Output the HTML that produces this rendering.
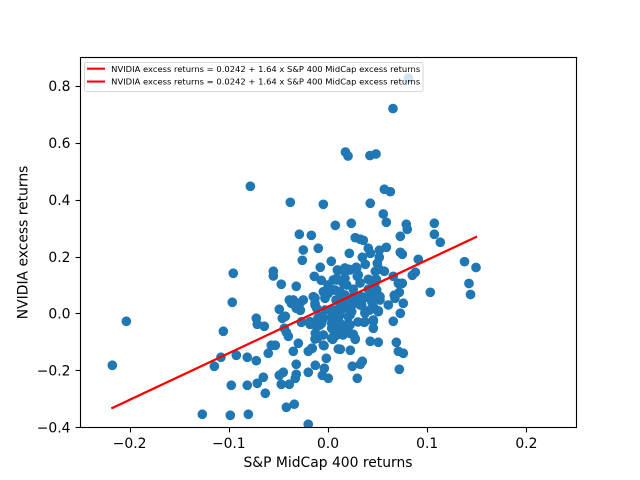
<!DOCTYPE html>
<html lang="en">
<head>
<meta charset="utf-8">
<title>NVIDIA excess returns vs S&amp;P MidCap 400 returns</title>
<style>
html,body{margin:0;padding:0;background:#fff;}
body{width:640px;height:480px;overflow:hidden;}
svg{display:block;}
text{font-family:"DejaVu Sans","Liberation Sans",sans-serif;fill:#000;}
</style>
</head>
<body>
<svg id="chart" xmlns="http://www.w3.org/2000/svg" width="640" height="480" viewBox="0 0 640 480">
  <defs><clipPath id="plot-clip"><rect x="80" y="57.6" width="496" height="369.6"></rect></clipPath></defs>
  <rect x="80" y="57.6" width="496" height="369.6" fill="#fff"></rect>
  <g id="points" clip-path="url(#plot-clip)"></g>
  <g id="fit-lines" clip-path="url(#plot-clip)"></g>
  <g id="x-axis"></g>
  <g id="y-axis"></g>
  <rect x="80.5" y="57.5" width="496" height="370" fill="none" stroke="#000" stroke-width="1.11"></rect>
  <text x="328" y="467" font-size="13.89" text-anchor="middle">S&amp;P MidCap 400 returns</text>
  <text transform="translate(27.5 242.4) rotate(-90)" font-size="13.89" text-anchor="middle">NVIDIA excess returns</text>
  <g>
    <rect x="84.5" y="62.5" width="338.5" height="29" rx="2" fill="#fff" fill-opacity="0.8" stroke="#ccc" stroke-opacity="0.8" stroke-width="1"></rect>
    <g>
      <line x1="87" y1="68.7" x2="105" y2="68.7" stroke="#ff0000" stroke-width="2.08"></line>
      <text x="111.2" y="71.8" font-size="8.04" textLength="309" lengthAdjust="spacingAndGlyphs">NVIDIA excess returns = 0.0242 + 1.64 x S&amp;P 400 MidCap excess returns</text>
    </g>
    <g>
      <line x1="87" y1="81.6" x2="105" y2="81.6" stroke="#ff0000" stroke-width="2.08"></line>
      <text x="111.2" y="84.7" font-size="8.04" textLength="309" lengthAdjust="spacingAndGlyphs">NVIDIA excess returns = 0.0242 + 1.64 x S&amp;P 400 MidCap excess returns</text>
    </g>
  </g>
</svg>
<script>
const xValues = [-.0783,-.038,-.0047,.0074,-.0289,-.0168,-.0249,-.0098,-.0259,.0033,-.0078,-.0955,-.0551,-.0551,-.0471,-.032,-.0138,-.0068,.0094,
.0568,.0628,.0426,.0557,.0588,.0789,.0799,.1072,.1072,.1132,.0729,.0235,.0275,.0326,.0356,.0406,.0426,.0517,.0588,.0215,.0729,.0749,.091,.0346,.0517,.0497,.0376,.0104,.0285,.0215,.0477,.0517,.0568,.088,.085,.0658,.0295,.0406,.0487,.0709,.0749,.1031,.0719,.0668,.0517,.0457,.0406,.0255,.0154,.0088,.0053,.0171,.0071,.0121,
-.0965,-.1055,-.0723,-.0713,-.0642,-.0491,-.043,-.0461,-.039,-.037,-.032,-.0249,-.0279,-.0269,-.0441,-.04,-.042,-.0299,-.0572,-.0531,-.0602,-.035,-.0199,-.0158,-.0924,-.1079,-.0814,-.0723,-.0017,-.032,-.0128,-.0037,-.0199,-.0451,-.0491,-.032,-.033,-.0057,.0003,-.0652,-.0713,-.0814,-.0975,-.0471,-.039,-.0632,-.034,-.042,-.0985,-.0803,-.0199,-.0108,-.0128,-.0047,.0104,.0053,-.0047,-.0164,-.0081,.0037,.0071,-.0047,-.0131,-.0131,-.003,-.0181,-.0282,
.0759,.0729,.0658,.0608,.0507,.0457,.0457,.0366,.0457,.0426,.0507,.0689,.0709,.0759,.0719,.0346,.0326,.0245,.0295,.0124,.0225,.0275,.0222,.0088,.0047,.0222,.0154,.0323,.0356,.0524,.0675,.0121,.0189,.0104,.0053,.0205,.0071,
-.2033,-.2174,-.1146,-.1267,.0811,.0655,.0176,.0202,.0423,.0484,.1376,.1492,.1421,.1437,
.002,.0141,.0242,.0171,.0272,.0373,.0423,.0302,-.003,.0121,.0222,.0151,0,.0171,.0081,.0323,-.0101,
.0222,.0289,.0305,.0171,.0088,.0154,.0189,.0053,.0121,-.0047,.0003,-.0148,-.035,-.0333,-.0282,-.0131,-.0114,-.003,.0189,.0255,.034,.0423,.0491,.0524,.0423,.0474,.0441,.034,.0373,.0507,.0423,.0053,.0121,.0205,.0239,.0037,.0121,.0205,.0037,.0121,.0053,.0121,-.0081,-.0064,-.0265,-.0181,-.0114,.0037,.0088,-.0114,.0255,.0272,.0373,.0457,-.0131,-.004,-.0164];

const yValues = [.4474,.391,.384,.31,.2786,.275,.2233,.2293,.187,.1836,.1625,.1414,.1484,.1319,.1027,.0957,.1308,.1167,.153,
.4369,.4284,.3876,.35,.3208,.3138,.2962,.3173,.2786,.2504,.2715,.3173,.2666,.261,.2574,.2293,.2117,.2223,.2328,.2117,.2152,.2082,.1906,.1977,.1977,.1765,.173,.1519,.1625,.1554,.1484,.1554,.1484,.1449,.1343,.1308,.1308,.1202,.1202,.1062,.1062,.0745,.0745,.064,.0605,.078,.0851,.0851,.1062,.1238,.1178,.1238,.0826,.0721,
.0394,-.0626,-.0169,-.038,-.045,.0148,-.0098,-.0169,.0475,.0359,.0183,.0475,.0113,-.0309,-.052,-.0802,-.0661,-.1048,-.1118,-.1118,-.14,-.133,-.133,-.1224,-.147,-.154,-.154,-.166,-.1576,-.1787,-.1822,-.1927,-.2068,-.2068,-.2174,-.2139,-.2279,-.2174,-.2279,-.2244,-.2455,-.2525,-.2525,-.249,-.249,-.2807,-.3193,-.3299,-.358,-.3545,-.3897,-.0872,-.0696,-.1118,-.1248,-.0872,-.0756,-.0345,-.0404,-.052,-.0169,-.0169,.0299,.0545,.0556,-.0288,.0369,
.0359,.0007,-.0274,.0299,.0098,.0239,-.0274,-.0309,-.052,-.0978,-.1013,-.1013,-.133,-.14,-.1962,-.1681,-.1787,-.1857,-.2279,-.1259,-.1294,-.0907,-.0696,-.0756,-.0907,-.0053,.0183,.0299,.0535,.0475,.0535,-.0404,-.052,-.0229,-.0053,-.0345,-.058,
-.0274,-.1822,-.1857,-.3545,.828,.7208,.5678,.5538,.5555,.561,.1822,.1618,.1055,.0668,
.0123,.0475,.0299,.0651,.0545,.0053,.0545,-.0299,.0123,.0123,-.0404,-.0756,.1002,.16,.0475,.1073,-.0158,
.153,.159,.1354,.147,.1178,.1118,.1002,.0826,.0767,.0767,.071,.0591,.0475,.0299,.0123,.0359,.0183,.0535,.0535,.0591,.0591,.0651,.0826,.0591,.1178,.1062,.0415,.0299,.0007,.0063,.0123,.0123,.0299,.0299,.0063,-.0113,-.0053,-.0113,-.0345,-.0345,-.058,-.058,-.0113,-.0345,-.0288,-.038,-.0464,-.0872,-.0756,-.0756,-.0732,-.0872,-.0288,-.0229,-.0897,-.1132,-.1224];

const xTicks = [-0.2, -0.1, 0, 0.1, 0.2];
const yTicks = [-0.4, -0.2, 0, 0.2, 0.4, 0.6, 0.8];
const fitIntercepts = [0.0242, 0.0242];
const fitSlopes = [1.64, 1.64];

const SVG_NS = 'http://www.w3.org/2000/svg';
const xScale = function (v) { return 80 + (v + 0.25) / 0.5 * 496; };
const yScale = function (v) { return 427.2 - (v + 0.4) / 1.3 * 369.6; };
const snap = function (p) { return Math.round(p) + 0.5; };
const tickText = function (v) { return v.toFixed(1).replace('-', '\u2212'); };
const make = function (tag, attrs) {
  const el = document.createElementNS(SVG_NS, tag);
  Object.keys(attrs).forEach(function (k) { el.setAttribute(k, attrs[k]); });
  return el;
};

const pointsGroup = document.getElementById('points');
xValues.forEach(function (xv, i) {
  const dot = make('circle', { cx: xScale(xv), cy: yScale(yValues[i]), r: 4.85, fill: '#1f77b4' });
  
  
  pointsGroup.appendChild(dot);
});

const fitGroup = document.getElementById('fit-lines');
const xMin = Math.min.apply(null, xValues);
const xMax = Math.max.apply(null, xValues);
fitSlopes.forEach(function (slope, i) {
  const intercept = fitIntercepts[i];
  const fit = make('line', {
    x1: xScale(xMin), y1: yScale(intercept + slope * xMin),
    x2: xScale(xMax), y2: yScale(intercept + slope * xMax),
    stroke: '#ff0000', 'stroke-width': 2.08, 'stroke-linecap': 'square'
  });
  
  
  fitGroup.appendChild(fit);
});

const xAxisGroup = document.getElementById('x-axis');
xTicks.forEach(function (t) {
  const px = snap(xScale(t));
  const mark = make('line', { x1: px, y1: 427.5, x2: px, y2: 432.4, stroke: '#000', 'stroke-width': 1.11 });
  
  
  xAxisGroup.appendChild(mark);
  const label = make('text', { x: xScale(t), y: 448, 'font-size': 13.89, 'text-anchor': 'middle' });
  
  
  label.textContent = tickText(t);
  xAxisGroup.appendChild(label);
});

const yAxisGroup = document.getElementById('y-axis');
yTicks.forEach(function (t) {
  const py = snap(yScale(t));
  const mark = make('line', { x1: 75.6, y1: py, x2: 80.5, y2: py, stroke: '#000', 'stroke-width': 1.11 });
  
  
  yAxisGroup.appendChild(mark);
  const label = make('text', { x: 70.5, y: yScale(t) + 5.2, 'font-size': 13.89, 'text-anchor': 'end' });
  
  
  label.textContent = tickText(t);
  yAxisGroup.appendChild(label);
});
</script>
</body>
</html>
